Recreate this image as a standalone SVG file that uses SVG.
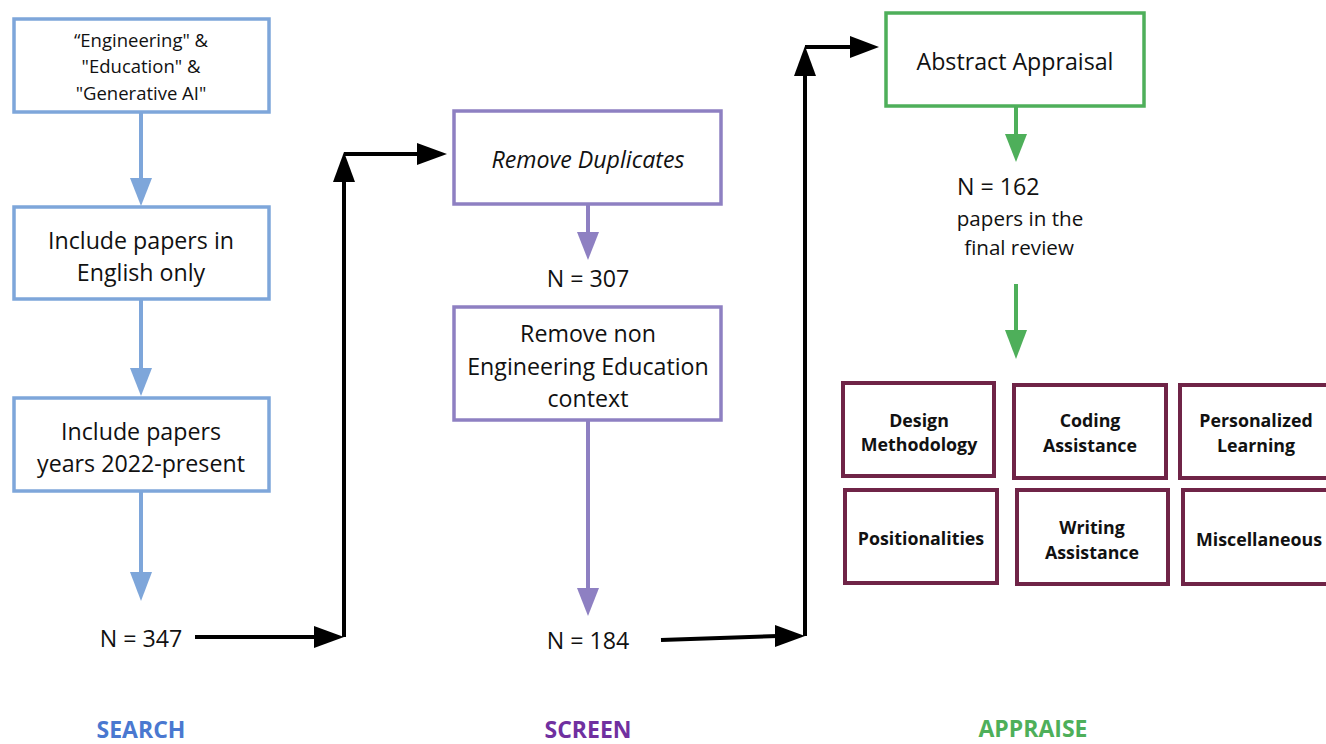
<svg xmlns="http://www.w3.org/2000/svg" width="1326" height="744" viewBox="0 0 1326 744">
<style>
text{font-family:"Open Sans","Liberation Sans",sans-serif;fill:#111;text-anchor:middle}
.b{fill:#fff;stroke:#7EA6DA;stroke-width:3.5}
.p{fill:#fff;stroke:#8E80C2;stroke-width:3.5}
.g{fill:#fff;stroke:#4EAF5A;stroke-width:3.5}
.m{fill:#fff;stroke:#6F2447;stroke-width:4}
.t22{font-size:23.2px}
.t16{font-size:18.5px}
.t20{font-size:20.6px}
.bt{font-size:17.8px;font-weight:bold}
.lab{font-size:23px;font-weight:bold}
.lb{stroke:#7EA6DA;stroke-width:4;fill:none}
.lp{stroke:#8E80C2;stroke-width:4;fill:none}
.lg{stroke:#4EAF5A;stroke-width:4;fill:none}
.lk{stroke:#000;stroke-width:4;fill:none}
</style>
<rect width="1326" height="744" fill="#fff"/>
<g id="connectors">
<line class="lb" x1="141" y1="112" x2="141" y2="180"/><polygon fill="#7EA6DA" points="130,178 152,178 141,206"/>
<line class="lb" x1="141" y1="299" x2="141" y2="370"/><polygon fill="#7EA6DA" points="130,368 152,368 141,396"/>
<line class="lb" x1="141" y1="491" x2="141" y2="574"/><polygon fill="#7EA6DA" points="130,572 152,572 141,601"/>
<polyline class="lk" points="195,637 318,637"/><polygon points="314,626 314,648 344,637"/>
<polyline class="lk" points="344,637 344,180"/><polygon points="333,182 355,182 344,152"/>
<polyline class="lk" points="344,154 420,154"/><polygon points="417,143 417,165 447,154"/>
<line class="lp" x1="588" y1="204" x2="588" y2="234"/><polygon fill="#8E80C2" points="577,232 599,232 588,260"/>
<line class="lp" x1="588" y1="420" x2="588" y2="590"/><polygon fill="#8E80C2" points="577,588 599,588 588,616"/>
<polyline class="lk" points="661,640 778,636"/><polygon points="775,625 775,647 805,636"/>
<polyline class="lk" points="805,636 805,74"/><polygon points="794,76 816,76 805,46"/>
<polyline class="lk" points="805,47 852,47"/><polygon points="850,36 850,58 879,47"/>
<line class="lg" x1="1016" y1="106" x2="1016" y2="136"/><polygon fill="#4EAF5A" points="1005,134 1027,134 1016,162"/>
<line class="lg" x1="1016" y1="284" x2="1016" y2="332"/><polygon fill="#4EAF5A" points="1005,330 1027,330 1016,359"/>
</g>
<g id="n1"><rect class="b" x="14" y="19" width="255" height="93"/>
<text class="t16" x="141" y="47">“Engineering" &amp;</text>
<text class="t16" x="141" y="73">"Education" &amp;</text>
<text class="t16" x="141" y="100">"Generative AI"</text></g>
<g id="n2"><rect class="b" x="14" y="207" width="255" height="92"/>
<text class="t22" x="141" y="249">Include papers in</text>
<text class="t22" x="141" y="281">English only</text></g>
<g id="n3"><rect class="b" x="14" y="398" width="255" height="93"/>
<text class="t22" x="141" y="440">Include papers</text>
<text class="t22" x="141" y="472">years 2022-present</text></g>
<g id="n4"><text class="t22" x="141" y="647">N = 347</text></g>
<g id="n5"><rect class="p" x="454" y="111" width="267" height="93"/>
<text class="t22" x="588" y="168" font-style="italic">Remove Duplicates</text></g>
<g id="n6"><text class="t22" x="588" y="287">N = 307</text></g>
<g id="n7"><rect class="p" x="454" y="307" width="267" height="113"/>
<text class="t22" x="588" y="342">Remove non</text>
<text class="t22" x="588" y="375">Engineering Education</text>
<text class="t22" x="588" y="407">context</text></g>
<g id="n8"><text class="t22" x="588" y="649">N = 184</text></g>
<g id="n9"><rect class="g" x="886" y="13" width="258" height="93"/>
<text class="t22" x="1015" y="70">Abstract Appraisal</text></g>
<g id="n10"><text class="t22" x="957" y="195" style="text-anchor:start">N = 162</text>
<text class="t20" x="1020" y="226">papers in the</text>
<text class="t20" x="1019" y="255">final review</text></g>
<g id="c1"><rect class="m" x="843" y="383" width="151" height="93"/>
<text class="bt" x="919" y="427">Design</text><text class="bt" x="919" y="451">Methodology</text></g>
<g id="c2"><rect class="m" x="1014" y="385" width="152" height="93"/>
<text class="bt" x="1090" y="427">Coding</text><text class="bt" x="1090" y="452">Assistance</text></g>
<g id="c3"><rect class="m" x="1180" y="385" width="152" height="93"/>
<text class="bt" x="1256" y="427">Personalized</text><text class="bt" x="1256" y="452">Learning</text></g>
<g id="c4"><rect class="m" x="845" y="490" width="152" height="93"/>
<text class="bt" x="921" y="545">Positionalities</text></g>
<g id="c5"><rect class="m" x="1017" y="490" width="151" height="94"/>
<text class="bt" x="1092" y="534">Writing</text><text class="bt" x="1092" y="559">Assistance</text></g>
<g id="c6"><rect class="m" x="1183" y="490" width="150" height="94"/>
<text class="bt" x="1259" y="546">Miscellaneous</text></g>
<g id="labels">
<text class="lab" x="141" y="738" style="fill:#4A78D0">SEARCH</text>
<text class="lab" x="588" y="738" style="fill:#7030A0">SCREEN</text>
<text class="lab" x="1033" y="737" style="fill:#4EAF5A">APPRAISE</text>
</g>
</svg>
